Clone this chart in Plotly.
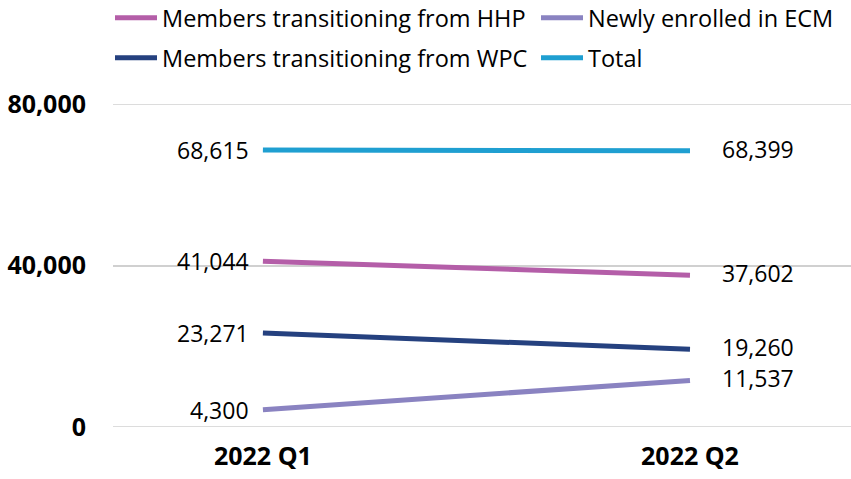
import plotly.graph_objects as go

categories = ["2022 Q1", "2022 Q2"]
hhp = [41044, 37602]
ecm = [4300, 11537]
wpc = [23271, 19260]
total = [68615, 68399]
y_ticks = [0, 40000, 80000]
y_tick_labels = ["0", "40,000", "80,000"]

series = [
    ("Members transitioning from HHP", hhp, "#B45EA8", "legend"),
    ("Newly enrolled in ECM", ecm, "#8A83C1", "legend2"),
    ("Members transitioning from WPC", wpc, "#25417F", "legend3"),
    ("Total", total, "#1F9FD1", "legend4"),
]

xpos = list(range(len(categories)))
fig = go.Figure()
for name, vals, color, lg in series:
    fig.add_trace(go.Scatter(
        x=xpos, y=vals, name=name, mode="lines",
        line=dict(color=color, width=5), legend=lg,
    ))
    for i, v in enumerate(vals):
        fig.add_annotation(
            x=xpos[i], y=v, text=f"{v:,}", showarrow=False,
            xanchor="right" if i == 0 else "left",
            xshift=-12 if i == 0 else 30, yshift=0 if i == 0 else 2,
            font=dict(size=23, color="#000000"),
        )

def leg(px, py):
    return dict(orientation="h", xref="container", yref="container",
                xanchor="left", yanchor="middle", font=dict(size=23.5),
                itemwidth=42,
                x=px / 851, y=1 - py / 479, bgcolor="rgba(0,0,0,0)")

fig.update_layout(
    width=851, height=479,
    margin=dict(l=113, r=0, t=104, b=52, autoexpand=False),
    paper_bgcolor="white", plot_bgcolor="white",
    font=dict(family="Open Sans, Noto Sans, sans-serif", color="#000000"),
    showlegend=True,
    legend=leg(110, 18),
    legend2=leg(536, 18),
    legend3=leg(110, 58),
    legend4=leg(536, 58),
    xaxis=dict(range=[-0.351, 1.377], tickvals=xpos, ticktext=categories,
               showgrid=False, zeroline=False, showline=False,
               tickfont=dict(size=25, weight="bold"),
               ticks="", ticklabelstandoff=12),
    yaxis=dict(range=[0, 80000], tickvals=y_ticks, ticktext=y_tick_labels,
               showgrid=True, gridcolor="#D0D0D0", gridwidth=1.5,
               zeroline=False, showline=False, ticks="",
               tickfont=dict(size=25, weight="bold"),
               ticklabelstandoff=26),
)
for yv in (y_ticks[0], y_ticks[-1]):
    fig.add_shape(type="line", xref="paper", yref="y", x0=0, x1=1, y0=yv, y1=yv,
                  line=dict(color="#D0D0D0", width=1.5), layer="below")

fig.write_html("out.html", config={"displayModeBar": False},
               post_script="document.body.style.margin='0';")
